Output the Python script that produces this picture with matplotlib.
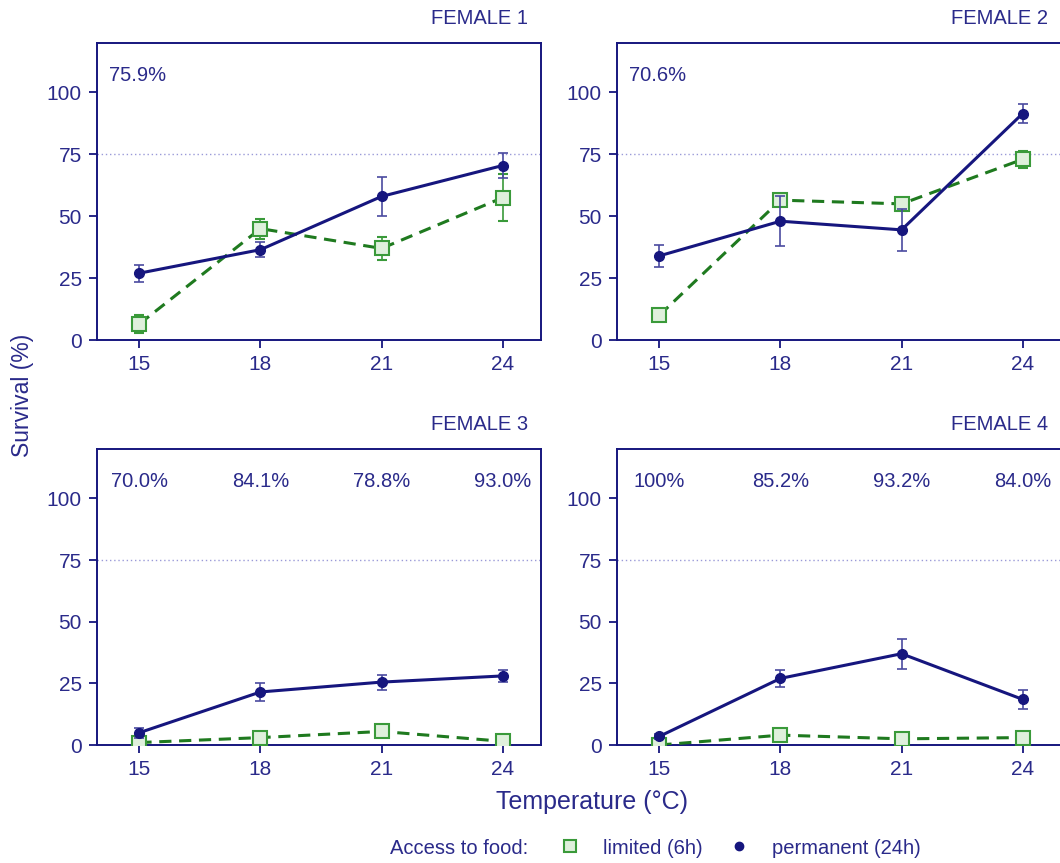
import matplotlib
matplotlib.use("Agg")
import matplotlib.pyplot as plt
from matplotlib.lines import Line2D
import numpy as np

plt.rcParams['font.family'] = ['Liberation Sans', 'DejaVu Sans']

temps = [15, 18, 21, 24]
panel_titles = ["FEMALE 1", "FEMALE 2", "FEMALE 3", "FEMALE 4"]

perm_1 = [27, 36.5, 58, 70.5]
perm_err_1 = [3.5, 3, 8, 5]
lim_1 = [6.5, 45, 37, 57.5]
lim_err_1 = [3.5, 4, 4.5, 9.5]

perm_2 = [34, 48, 44.5, 91.5]
perm_err_2 = [4.5, 10, 8.5, 4]
lim_2 = [10, 56.5, 55, 73]
lim_err_2 = [1.5, 2.5, 2, 3.5]

perm_3 = [5, 21.5, 25.5, 28]
perm_err_3 = [2, 3.5, 3, 2.5]
lim_3 = [1, 3, 5.5, 1.5]
lim_err_3 = [1, 1, 1.5, 1]

perm_4 = [3.5, 27, 37, 18.5]
perm_err_4 = [1, 3.5, 6, 4]
lim_4 = [0, 4, 2.5, 3]
lim_err_4 = [0.5, 1, 1, 1]

notes_1 = ["75.9%"]
notes_2 = ["70.6%"]
notes_3 = ["70.0%", "84.1%", "78.8%", "93.0%"]
notes_4 = ["100%", "85.2%", "93.2%", "84.0%"]

yticks = [0, 25, 50, 75, 100]

NAVY = '#16167e'
TXT = '#2a2a8a'
GREEN = '#1f7a1f'
LGREEN = '#dff0dc'
MEDGREEN = '#3a9a3a'

fig = plt.figure(figsize=(10.6, 8.63), dpi=100)

W = 444 / 1060
H_top = (340 - 43) / 863
H_bot = (745 - 449) / 863
positions = [
    (97 / 1060, 1 - 340 / 863, W, H_top),
    (617 / 1060, 1 - 340 / 863, W, H_top),
    (97 / 1060, 1 - 745 / 863, W, H_bot),
    (617 / 1060, 1 - 745 / 863, W, H_bot),
]

data = [
    (perm_1, perm_err_1, lim_1, lim_err_1, notes_1),
    (perm_2, perm_err_2, lim_2, lim_err_2, notes_2),
    (perm_3, perm_err_3, lim_3, lim_err_3, notes_3),
    (perm_4, perm_err_4, lim_4, lim_err_4, notes_4),
]

for i, (pos, (perm, perr, lim, lerr, notes)) in enumerate(zip(positions, data)):
    ax = fig.add_axes(pos)
    ax.axhline(75, color='#9a9ad8', lw=1.0, ls=(0, (1, 2)), zorder=1)
    ax.errorbar(temps, lim, yerr=lerr, color=GREEN, ls=(0, (4, 2.5)), lw=2.2,
                marker='s', ms=10, mfc=LGREEN, mec=MEDGREEN, mew=1.5,
                ecolor=MEDGREEN, elinewidth=1.2, capsize=3.5, capthick=1.2, zorder=3)
    ax.errorbar(temps, perm, yerr=perr, color=NAVY, ls='-', lw=2.2,
                marker='o', ms=7, mfc=NAVY, mec=NAVY,
                ecolor='#4a4aa0', elinewidth=1.2, capsize=3.5, capthick=1.2, zorder=4)
    ax.set_xlim(13.95, 24.95)
    ax.set_ylim(0, 120)
    ax.set_xticks(temps)
    ax.set_yticks(yticks)
    for s in ax.spines.values():
        s.set_color(NAVY)
        s.set_linewidth(1.4)
    ax.tick_params(colors=NAVY, labelcolor=TXT, labelsize=15, length=6, width=1.3,
                   direction='out', pad=5)
    ax.text(0.971, 1 + 25 / 297, panel_titles[i], transform=ax.transAxes,
            fontsize=14.5, color=TXT, ha='right', va='center')
    if len(notes) == 1:
        ax.text(14.25, 107, notes[0], fontsize=14.5, color=TXT, ha='left', va='center')
    else:
        for t, n in zip(temps, notes):
            ax.text(t, 107, n, fontsize=14.5, color=TXT, ha='center', va='center')

fig.text(22 / 1060, 1 - 395 / 863, "Survival (%)", rotation=90, fontsize=16.5,
         color=TXT, ha='center', va='center')
fig.text(592 / 1060, 1 - 802 / 863, "Temperature (°C)", fontsize=18,
         color=TXT, ha='center', va='center')
fig.text(390 / 1060, 1 - 848 / 863, "Access to food:", fontsize=14.5,
         color=TXT, ha='left', va='center')

handles = [
    Line2D([], [], ls='none', marker='s', ms=9, mfc=LGREEN, mec=MEDGREEN, mew=1.5),
    Line2D([], [], ls='none', marker='o', ms=6, mfc=NAVY, mec=NAVY),
]
labels = ["limited (6h)", "permanent (24h)"]
leg = fig.legend(handles, labels, loc='center left',
                 bbox_to_anchor=(560 / 1060, 1 - 848 / 863), ncol=2, frameon=False,
                 fontsize=14.5, handlelength=1.0, handletextpad=1.15, columnspacing=1.3,
                 borderpad=0, borderaxespad=0)
for t in leg.get_texts():
    t.set_color(TXT)

fig.savefig("out.png", dpi=100)
